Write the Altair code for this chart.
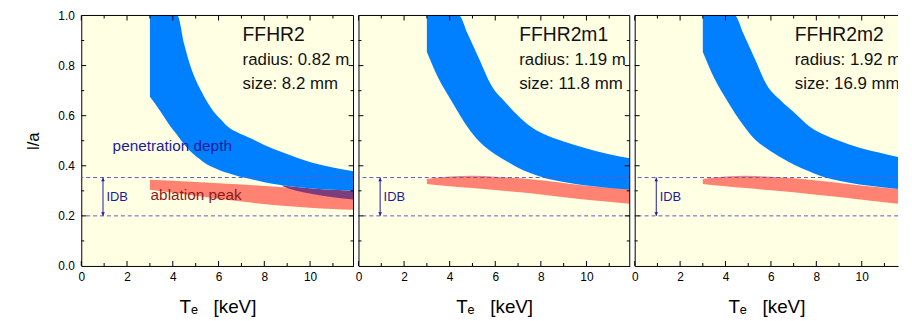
import altair as alt
import pandas as pd

# ---------------- data ----------------
PANEL_NAME = ["FFHR2", "FFHR2m1", "FFHR2m2"]
PANEL_RADIUS = ["radius: 0.82 m", "radius: 1.19 m", "radius: 1.92 m"]
PANEL_SIZE = ["size: 8.2 mm", "size: 11.8 mm", "size: 16.9 mm"]
X_END = [11.9, 11.9, 11.6]

# penetration depth band (blue)
PEN1_X = [3.0, 3.2, 3.5, 3.8, 4.2, 4.5, 4.8, 5.2, 5.5, 5.8, 6.1, 6.4, 6.9, 7.4, 8.0, 8.7, 9.4, 10.1, 11.0, 11.9]
PEN1_HI = [1.0, 1.0, 1.0, 1.0, 1.0, 0.885, 0.79, 0.705, 0.656, 0.615, 0.585, 0.557, 0.53, 0.51, 0.483, 0.457, 0.433, 0.412, 0.393, 0.378]
PEN1_LO = [0.676, 0.652, 0.612, 0.57, 0.522, 0.485, 0.455, 0.425, 0.405, 0.392, 0.38, 0.371, 0.357, 0.347, 0.334, 0.323, 0.315, 0.309, 0.304, 0.300]

PEN2_X = [3.0, 3.5, 4.1, 4.4, 4.8, 5.3, 5.8, 6.5, 7.0, 7.5, 8.1, 9.0, 9.9, 10.9, 11.9]
PEN2_HI = [1.0, 1.0, 1.0, 1.0, 0.925, 0.825, 0.725, 0.648, 0.6, 0.56, 0.528, 0.497, 0.472, 0.448, 0.43]
PEN2_LO = [0.854, 0.75, 0.656, 0.61, 0.553, 0.497, 0.458, 0.418, 0.392, 0.372, 0.353, 0.335, 0.322, 0.312, 0.305]

PEN3_X = [3.0, 3.5, 4.1, 4.4, 4.8, 5.3, 5.8, 6.5, 7.0, 7.7, 8.4, 9.0, 9.9, 10.8, 11.6]
PEN3_HI = [1.0, 1.0, 1.0, 1.0, 0.925, 0.825, 0.725, 0.655, 0.615, 0.557, 0.522, 0.5, 0.472, 0.452, 0.435]
PEN3_LO = [0.854, 0.75, 0.656, 0.612, 0.56, 0.505, 0.47, 0.43, 0.405, 0.377, 0.353, 0.34, 0.325, 0.315, 0.307]

# ablation peak band (salmon)
ABL1_X = [3.0, 5.0, 7.0, 8.8, 10.0, 11.0, 11.9]
ABL1_HI = [0.344, 0.335, 0.325, 0.314, 0.305, 0.300, 0.298]
ABL1_LO = [0.304, 0.280, 0.257, 0.240, 0.232, 0.227, 0.224]

ABL2_X = [3.0, 4.0, 5.0, 6.0, 7.1, 8.2, 9.3, 10.5, 11.9]
ABL2_HI = [0.347, 0.357, 0.360, 0.356, 0.350, 0.340, 0.327, 0.316, 0.307]
ABL2_LO = [0.327, 0.318, 0.311, 0.303, 0.294, 0.283, 0.271, 0.260, 0.248]

ABL3_X = [3.0, 4.0, 4.9, 6.0, 7.0, 8.0, 9.1, 10.4, 11.6]
ABL3_HI = [0.347, 0.357, 0.360, 0.356, 0.350, 0.341, 0.330, 0.317, 0.307]
ABL3_LO = [0.327, 0.318, 0.311, 0.302, 0.294, 0.284, 0.274, 0.260, 0.248]

# overlap region (purple) in the first panel
OVL1_X = [8.8, 9.4, 10.1, 11.0, 11.9]
OVL1_HI = [0.322, 0.315, 0.309, 0.304, 0.300]
OVL1_LO = [0.318, 0.300, 0.287, 0.274, 0.265]

IDB_LEVELS = [0.353, 0.2]
X_MAJOR = [0, 2, 4, 6, 8, 10]
X_MINOR = [1, 3, 5, 7, 9, 11]
Y_MAJOR = [0.0, 0.2, 0.4, 0.6, 0.8, 1.0]
Y_MINOR = [0.1, 0.3, 0.5, 0.7, 0.9]

PEN = [(PEN1_X, PEN1_HI, PEN1_LO), (PEN2_X, PEN2_HI, PEN2_LO), (PEN3_X, PEN3_HI, PEN3_LO)]
ABL = [(ABL1_X, ABL1_HI, ABL1_LO), (ABL2_X, ABL2_HI, ABL2_LO), (ABL3_X, ABL3_HI, ABL3_LO)]

BLUE = "#0080ff"
SALMON = "#ff8272"
PURPLE = "#7d3d7d"
NAVY = "#1c1c9a"
DARKRED = "#8e1a1a"
DASH = "#5c5cc4"
BG = "#ffffe4"
FONT = "Liberation Sans"
X_TITLE = "T\u2091\u00a0\u00a0\u00a0[keV]"


def band_df(xs, hi, lo):
    return pd.DataFrame({"x": xs, "hi": hi, "lo": lo})


def make_panel(i, width):
    xs = alt.Scale(domain=[0, X_END[i]], nice=False, zero=False)
    ys = alt.Scale(domain=[0, 1], nice=False, zero=False)
    xaxis = alt.Axis(values=X_MAJOR, title=X_TITLE, ticks=False, grid=False,
                     labelPadding=6, titlePadding=15, domainColor="black", labelColor="black",
                     labelFontSize=12, titleFontSize=19, titleFontWeight="normal",
                     titleColor="black", labelFlush=False, format="d")
    if i == 0:
        yaxis = alt.Axis(values=Y_MAJOR, format=".1f", title="l/a", ticks=False, grid=False,
                         labelPadding=7, titlePadding=16, domainColor="black", labelColor="black",
                         labelFontSize=12, titleFontSize=17, titleFontWeight="normal",
                         titleColor="black", labelFlush=False)
    else:
        yaxis = alt.Axis(labels=False, ticks=False, title=None, grid=False, domainColor="black")

    def X(f):
        return alt.X(f, type="quantitative", scale=xs, axis=xaxis)

    def Y(f):
        return alt.Y(f, type="quantitative", scale=ys, axis=yaxis)

    def XD(v):
        return alt.XDatum(v, scale=xs, axis=xaxis)

    def YD(v):
        return alt.YDatum(v, scale=ys, axis=yaxis)

    layers = []
    ax, ahi, alo = ABL[i]
    layers.append(alt.Chart(band_df(ax, ahi, alo)).mark_area(color=SALMON, opacity=1, interpolate="monotone").encode(
        x=X("x"), y=Y("hi"), y2="lo"))
    if i == 0:
        layers.append(alt.Chart(band_df(OVL1_X, OVL1_HI, OVL1_LO)).mark_area(color=PURPLE, opacity=1, interpolate="monotone").encode(
            x=X("x"), y=Y("hi"), y2="lo"))
    px, phi, plo = PEN[i]
    layers.append(alt.Chart(band_df(px, phi, plo)).mark_area(color=BLUE, opacity=1, interpolate="monotone").encode(
        x=X("x"), y=Y("hi"), y2="lo"))

    # IDB dashed levels
    layers.append(alt.Chart(pd.DataFrame({"y": IDB_LEVELS})).mark_rule(color=DASH, strokeDash=[4, 3], strokeWidth=1).encode(
        y=Y("y")))
    # IDB arrow
    one = pd.DataFrame({"k": [0]})
    layers.append(alt.Chart(one).mark_rule(color=NAVY, strokeWidth=1).encode(
        x=XD(0.95), y=YD(IDB_LEVELS[0]), y2=alt.Y2Datum(IDB_LEVELS[1])))
    layers.append(alt.Chart(one).mark_point(shape="triangle-up", filled=True, color=NAVY, size=14, opacity=1, yOffset=2).encode(
        x=XD(0.95), y=YD(IDB_LEVELS[0])))
    layers.append(alt.Chart(one).mark_point(shape="triangle-down", filled=True, color=NAVY, size=14, opacity=1, yOffset=-2).encode(
        x=XD(0.95), y=YD(IDB_LEVELS[1])))
    layers.append(alt.Chart(pd.DataFrame({"t": ["IDB"]})).mark_text(
        color=NAVY, fontSize=13, align="left", baseline="middle", font=FONT).encode(
        x=XD(1.1), y=YD(0.277), text="t:N"))

    # panel annotations
    clip = (i == 2)
    for txt, yv, fs in [(PANEL_NAME[i], 0.90, 19.5), (PANEL_RADIUS[i], 0.801, 17), (PANEL_SIZE[i], 0.706, 17)]:
        layers.append(alt.Chart(pd.DataFrame({"t": [txt]})).mark_text(
            color="#111111", fontSize=fs, align="left", baseline="alphabetic", font=FONT, clip=clip).encode(
            x=XD(7.05), y=YD(yv), text="t:N"))
    if i == 0:
        layers.append(alt.Chart(pd.DataFrame({"t": ["penetration depth"]})).mark_text(
            color=NAVY, fontSize=15.5, align="left", baseline="alphabetic", font=FONT).encode(
            x=XD(1.37), y=YD(0.457), text="t:N"))
        layers.append(alt.Chart(pd.DataFrame({"t": ["ablation peak"]})).mark_text(
            color=DARKRED, fontSize=15.5, align="left", baseline="alphabetic", font=FONT).encode(
            x=XD(3.03), y=YD(0.265), text="t:N"))

    # frame: top and right edges
    layers.append(alt.Chart(one).mark_rule(color="black", strokeWidth=1).encode(y=YD(1.0)))
    if i < 2:
        layers.append(alt.Chart(one).mark_rule(color="black", strokeWidth=1).encode(x=XD(X_END[i])))

    # inward ticks
    for vals, sz in [(X_MAJOR, 5), (X_MINOR, 3)]:
        d = pd.DataFrame({"v": vals})
        layers.append(alt.Chart(d).mark_tick(orient="vertical", size=sz, thickness=1, color="black", opacity=1,
                                             yOffset=-sz / 2).encode(x=X("v"), y=YD(0)))
        layers.append(alt.Chart(d).mark_tick(orient="vertical", size=sz, thickness=1, color="black", opacity=1,
                                             yOffset=sz / 2).encode(x=X("v"), y=YD(1)))
    for vals, sz in [(Y_MAJOR[1:-1], 5), (Y_MINOR, 3)]:
        d = pd.DataFrame({"v": vals})
        layers.append(alt.Chart(d).mark_tick(orient="horizontal", size=sz, thickness=1, color="black", opacity=1,
                                             xOffset=sz / 2).encode(y=Y("v"), x=XD(0)))
        if i < 2:
            layers.append(alt.Chart(d).mark_tick(orient="horizontal", size=sz, thickness=1, color="black", opacity=1,
                                                 xOffset=-sz / 2).encode(y=Y("v"), x=XD(X_END[i])))

    return alt.layer(*layers).properties(width=width, height=253)


chart = alt.hconcat(
    make_panel(0, 275), make_panel(1, 274), make_panel(2, 266),
    spacing=0
).properties(
    padding={"left": 16, "right": 5, "top": 0, "bottom": 0}
).configure(font=FONT).configure_view(stroke=None, fill=BG).configure_axis(domainWidth=1)

chart.save("out.html", embed_options={"renderer": "svg", "actions": False})
